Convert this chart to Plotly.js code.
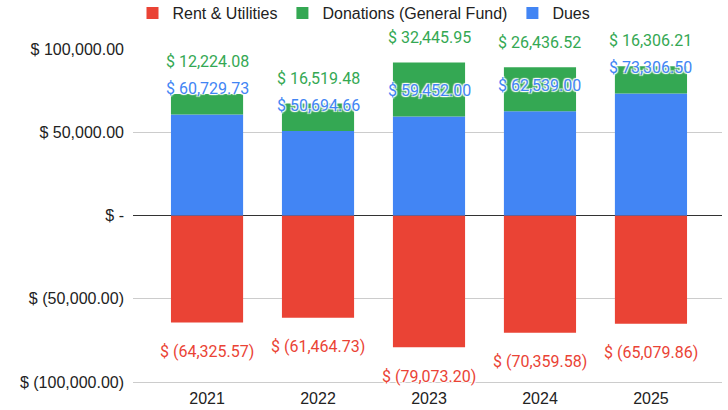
<!DOCTYPE html>
<html>
<head>
<meta charset="utf-8">
<script src="https://cdn.plot.ly/plotly-3.0.1.min.js"></script>
<style>html,body{margin:0;padding:0;background:#fff}#chart{width:728px;height:410px}</style>
</head>
<body>
<div id="chart"></div>
<script>
const years = ['2021', '2022', '2023', '2024', '2025'];
const rentUtilities = [-64325.57, -61464.73, -79073.20, -70359.58, -65079.86];
const donations = [12224.08, 16519.48, 32445.95, 26436.52, 16306.21];
const dues = [60729.73, 50694.66, 59452.00, 62539.00, 73306.50];
const yTickVals = [100000, 50000, 0, -50000, -100000];
const yTickText = ['$ 100,000.00', '$ 50,000.00', '$ -', '$ (50,000.00)', '$ (100,000.00)'];

const RED = '#EA4335', GREEN = '#34A853', BLUE = '#4285F4';
const FONT = 'Roboto, Arial, sans-serif';
const AXFONT = '"Liberation Sans", Arial, sans-serif';

function fmt(v) {
  const s = Math.abs(v).toLocaleString('en-US', {minimumFractionDigits: 2, maximumFractionDigits: 2});
  return v < 0 ? '$ (' + s + ')' : '$ ' + s;
}

const traces = [
  {type: 'bar', name: 'Rent & Utilities', x: years, y: rentUtilities, marker: {color: RED}, legendrank: 1, hoverinfo: 'none'},
  {type: 'bar', name: 'Dues', x: years, y: dues, marker: {color: BLUE}, legendrank: 3, hoverinfo: 'none'},
  {type: 'bar', name: 'Donations (General Fund)', x: years, y: donations, marker: {color: GREEN}, legendrank: 2, hoverinfo: 'none'}
];

const pxPerUnit = 333 / 200000;
const halo = '1px 1px 1px #fff, -1px -1px 1px #fff, 1px -1px 1px #fff, -1px 1px 1px #fff';
const annotations = [];
years.forEach((yr, i) => {
  annotations.push({x: i, y: dues[i], xref: 'x', yref: 'y', text: fmt(dues[i]), showarrow: false, yshift: 26,
    font: {family: FONT, size: 16, color: BLUE, shadow: halo}});
  const gShift = Math.max(25, 53 - donations[i] * pxPerUnit);
  annotations.push({x: i, y: dues[i] + donations[i], xref: 'x', yref: 'y', text: fmt(donations[i]), showarrow: false, yshift: gShift,
    font: {family: FONT, size: 16, color: GREEN, shadow: halo}});
  annotations.push({x: i, y: rentUtilities[i], xref: 'x', yref: 'y', text: fmt(rentUtilities[i]), showarrow: false, yshift: -29,
    font: {family: FONT, size: 16, color: RED, shadow: halo}});
});

const layout = {
  width: 728, height: 410,
  margin: {l: 133, r: 6, t: 49, b: 23},
  barmode: 'relative',
  bargap: 0.35,
  paper_bgcolor: '#fff', plot_bgcolor: '#fff',
  font: {family: AXFONT, size: 16, color: '#222'},
  showlegend: true,
  legend: {orientation: 'h', xref: 'container', yref: 'container', x: 0.5, xanchor: 'center', y: 0.968, yanchor: 'middle',
    font: {family: AXFONT, size: 16, color: '#222'}, traceorder: 'normal'},
  xaxis: {type: 'category', range: [-0.667, 4.64], showgrid: false, zeroline: false, showline: false,
    ticks: '', tickfont: {family: AXFONT, size: 16, color: '#222'}, fixedrange: true},
  yaxis: {range: [-103000, 100000], tickvals: yTickVals, ticktext: yTickText, showgrid: true, gridcolor: '#cccccc',
    zeroline: true, zerolinecolor: '#333333', zerolinewidth: 1, ticks: '', ticklabelstandoff: 8,
    tickfont: {family: AXFONT, size: 16, color: '#222'}, fixedrange: true},
  annotations: annotations
};

Plotly.newPlot('chart', traces, layout, {displayModeBar: false, staticPlot: true});
</script>
</body>
</html>
